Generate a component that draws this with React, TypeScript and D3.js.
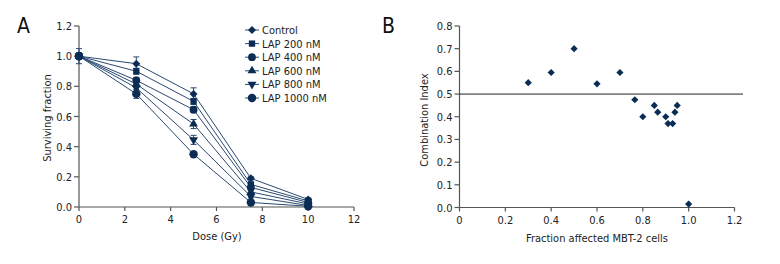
import React from "react";
import * as d3 from "d3";

const doses = [0, 2.5, 5, 7.5, 10];
const seriesNames = ["Control", "LAP 200 nM", "LAP 400 nM", "LAP 600 nM", "LAP 800 nM", "LAP 1000 nM"];
const control = [1.0, 0.95, 0.75, 0.19, 0.05];
const lap200 = [1.0, 0.9, 0.7, 0.15, 0.04];
const lap400 = [1.0, 0.84, 0.645, 0.13, 0.03];
const lap600 = [1.0, 0.815, 0.55, 0.1, 0.02];
const lap800 = [1.0, 0.79, 0.445, 0.07, 0.01];
const lap1000 = [1.0, 0.75, 0.35, 0.03, 0.005];
const errControl = [0.05, 0.045, 0.04, 0.01, 0.01];
const errLap200 = [0.02, 0.02, 0.02, 0.01, 0.01];
const errLap400 = [0.02, 0.02, 0.02, 0.01, 0.01];
const errLap600 = [0.02, 0.02, 0.03, 0.01, 0.01];
const errLap800 = [0.02, 0.02, 0.03, 0.01, 0.01];
const errLap1000 = [0.02, 0.03, 0.015, 0.01, 0.01];

const faValues = [0.3, 0.4, 0.5, 0.6, 0.7, 0.765, 0.8, 0.85, 0.865, 0.9, 0.91, 0.93, 0.94, 0.95, 1.0];
const ciValues = [0.55, 0.595, 0.7, 0.545, 0.595, 0.475, 0.4, 0.45, 0.42, 0.4, 0.37, 0.37, 0.42, 0.45, 0.015];

const xTicksA = [0, 2, 4, 6, 8, 10, 12];
const yTicksA = [0, 0.2, 0.4, 0.6, 0.8, 1.0, 1.2];
const xTicksB = [0, 0.2, 0.4, 0.6, 0.8, 1.0, 1.2];
const yTicksB = [0, 0.1, 0.2, 0.3, 0.4, 0.5, 0.6, 0.7, 0.8];

const FONT = "'Liberation Sans Narrow', 'DejaVu Sans Condensed', 'Roboto Condensed', sans-serif";
const NAVY = "#0b2d55";
const LINE = "#2a4a70";
const AXIS = "#555";

const allSeries = [control, lap200, lap400, lap600, lap800, lap1000];
const allErr = [errControl, errLap200, errLap400, errLap600, errLap800, errLap1000];
const symbols = [d3.symbolSquare, d3.symbolSquare, d3.symbolCircle, d3.symbolTriangle, d3.symbolTriangle, d3.symbolCircle];
const symSizes = [32, 40, 48, 34, 34, 56];
const rotations = [45, 0, 0, 0, 180, 0];

export default function App() {
  // Panel A
  const xA = d3.scaleLinear().domain([0, 12]).range([79, 354]);
  const yA = d3.scaleLinear().domain([0, 1.2]).range([207, 26]);
  const lineA = d3
    .line<number>()
    .x((_, i) => xA(doses[i]))
    .y((v) => yA(v));

  // Panel B
  const xB = d3.scaleLinear().domain([0, 1.2]).range([459.5, 734.5]);
  const yB = d3.scaleLinear().domain([0, 0.8]).range([207.5, 26]);

  const fmt1 = d3.format(".1f");

  return (
    <svg
      width={780}
      height={264}
      style={{ position: "absolute", left: 0, top: 0, background: "#fff" }}
      fontFamily={FONT}
    >
      <rect width={780} height={264} fill="#fff" />
      {/* Panel labels */}
      <text x={17} y={33} fontSize={21} fill="#111">A</text>
      <text x={382} y={33} fontSize={21} fill="#111">B</text>

      {/* Panel A axes */}
      <g>
        <line x1={xA(0)} x2={xA(12)} y1={yA(0)} y2={yA(0)} stroke={AXIS} strokeWidth={1.2} />
        <line x1={xA(0)} x2={xA(0)} y1={yA(0)} y2={yA(1.2)} stroke={AXIS} strokeWidth={1.2} />
        {xTicksA.map((t) => (
          <g key={"xa" + t}>
            <line x1={xA(t)} x2={xA(t)} y1={yA(0)} y2={yA(0) + 4} stroke={AXIS} strokeWidth={1.2} />
            <text x={xA(t)} y={yA(0) + 16} fontSize={11} textAnchor="middle" fill="#222">{t}</text>
          </g>
        ))}
        {yTicksA.map((t) => (
          <g key={"ya" + t}>
            <line x1={xA(0) - 5} x2={xA(0)} y1={yA(t)} y2={yA(t)} stroke={AXIS} strokeWidth={1.2} />
            <text x={xA(0) - 7} y={yA(t) + 4} fontSize={11} textAnchor="end" fill="#222">{fmt1(t)}</text>
          </g>
        ))}
        <text x={217} y={240} fontSize={11} textAnchor="middle" fill="#222">Dose (Gy)</text>
        <text
          transform={`translate(51,118) rotate(-90)`}
          fontSize={11}
          textAnchor="middle"
          fill="#222"
        >
          Surviving fraction
        </text>
      </g>

      {/* Panel A series */}
      <g>
        {allSeries.map((s, si) => (
          <path key={"l" + si} d={lineA(s) || ""} fill="none" stroke={LINE} strokeWidth={1} />
        ))}
        {allSeries.map((s, si) =>
          s.map((v, i) => {
            const e = allErr[si][i];
            const cx = xA(doses[i]);
            return (
              <g key={"e" + si + "-" + i} stroke={LINE} strokeWidth={1}>
                <line x1={cx} x2={cx} y1={yA(v + e)} y2={yA(v - e)} />
                <line x1={cx - 3} x2={cx + 3} y1={yA(v + e)} y2={yA(v + e)} />
                <line x1={cx - 3} x2={cx + 3} y1={yA(v - e)} y2={yA(v - e)} />
              </g>
            );
          })
        )}
        {allSeries.map((s, si) =>
          s.map((v, i) => (
            <path
              key={"m" + si + "-" + i}
              d={d3.symbol().type(symbols[si]).size(symSizes[si])() || ""}
              transform={`translate(${xA(doses[i])},${yA(v)}) rotate(${rotations[si]})`}
              fill={NAVY}
            />
          ))
        )}
      </g>

      {/* Legend */}
      <g>
        {seriesNames.map((n, i) => {
          const ly = 30 + i * 13.6;
          return (
            <g key={"lg" + i}>
              <line x1={245} x2={259} y1={ly} y2={ly} stroke={LINE} strokeWidth={1} />
              <path
                d={d3.symbol().type(symbols[i]).size(symSizes[i])() || ""}
                transform={`translate(252,${ly}) rotate(${rotations[i]})`}
                fill={NAVY}
              />
              <text x={262} y={ly + 4} fontSize={11} fill="#222">{n}</text>
            </g>
          );
        })}
      </g>

      {/* Panel B axes */}
      <g>
        <line x1={xB(0)} x2={xB(1.2)} y1={yB(0)} y2={yB(0)} stroke={AXIS} strokeWidth={1.2} />
        <line x1={xB(0)} x2={xB(0)} y1={yB(0)} y2={yB(0.8)} stroke={AXIS} strokeWidth={1.2} />
        {xTicksB.map((t) => (
          <g key={"xb" + t}>
            <line x1={xB(t)} x2={xB(t)} y1={yB(0)} y2={yB(0) + 4} stroke={AXIS} strokeWidth={1.2} />
            <text x={xB(t)} y={yB(0) + 16} fontSize={11} textAnchor="middle" fill="#222">
              {t === 0 ? "0" : fmt1(t)}
            </text>
          </g>
        ))}
        {yTicksB.map((t) => (
          <g key={"yb" + t}>
            <line x1={xB(0) - 5} x2={xB(0)} y1={yB(t)} y2={yB(t)} stroke={AXIS} strokeWidth={1.2} />
            <text x={xB(0) - 7} y={yB(t) + 4} fontSize={11} textAnchor="end" fill="#222">{fmt1(t)}</text>
          </g>
        ))}
        <line x1={xB(0)} x2={743} y1={yB(0.5)} y2={yB(0.5)} stroke="#222" strokeWidth={1} />
        <text x={597} y={242} fontSize={11} textAnchor="middle" fill="#222">Fraction affected MBT-2 cells</text>
        <text
          transform={`translate(428,120) rotate(-90)`}
          fontSize={11}
          textAnchor="middle"
          fill="#222"
        >
          Combination Index
        </text>
      </g>

      {/* Panel B points */}
      <g>
        {faValues.map((fa, i) => (
          <path
            key={"p" + i}
            d={d3.symbol().type(d3.symbolSquare).size(26)() || ""}
            transform={`translate(${xB(fa)},${yB(ciValues[i])}) rotate(45)`}
            fill={NAVY}
          />
        ))}
      </g>
    </svg>
  );
}
